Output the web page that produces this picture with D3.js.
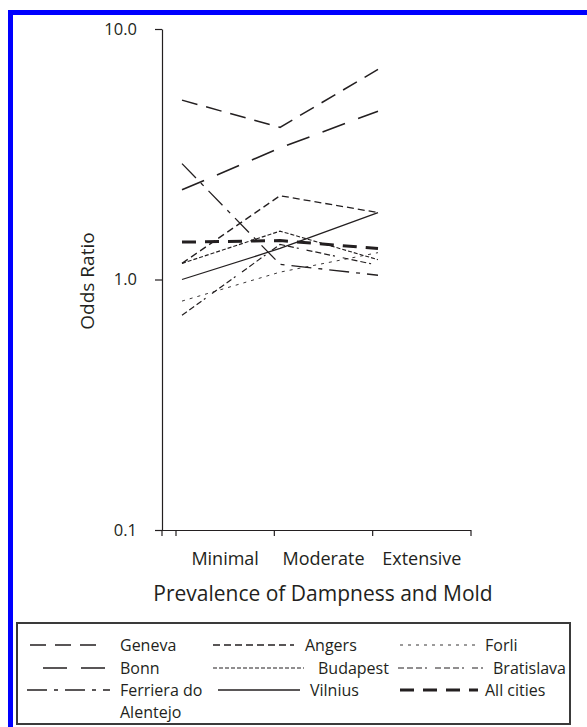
<!DOCTYPE html>
<html>
<head>
<meta charset="utf-8">
<script src="https://cdn.jsdelivr.net/npm/d3@7"></script>
<style>
  html, body { margin: 0; background: #fff; overflow: hidden; }
  svg { display: block; }
  svg text { font-family: "Open Sans", "Noto Sans", sans-serif; fill: #231f20; }
</style>
</head>
<body>
<svg width="587" height="727"></svg>
<script>
// data
const categories = ['Minimal', 'Moderate', 'Extensive'];
const cities = ['Geneva', 'Bonn', 'Ferriera do Alentejo', 'Angers', 'Budapest', 'Vilnius', 'Forli', 'Bratislava', 'All cities'];
const geneva = [5.2, 4.05, 6.9];
const bonn = [2.28, 3.35, 4.7];
const ferriera = [2.9, 1.15, 1.04];
const angers = [1.16, 2.16, 1.85];
const budapest = [1.16, 1.56, 1.2];
const vilnius = [1.0, 1.33, 1.85];
const forli = [0.82, 1.07, 1.28];
const bratislava = [0.72, 1.38, 1.14];
const allCities = [1.41, 1.43, 1.33];
const yTicks = [10, 1, 0.1];

const seriesValues = [geneva, bonn, ferriera, angers, budapest, vilnius, forli, bratislava, allCities];

// line styles, same order as cities
const styles = [
  {dash: '16,9', w: 1.5},
  {dash: '24,14', w: 1.6},
  {dash: '20,7,4,7', w: 1.3},
  {dash: '7,4', w: 1.3},
  {dash: '4,2', w: 1.1},
  {dash: null, w: 1.3},
  {dash: '3,5', w: 0.9},
  {dash: '6,3,6,3,6,3,2,8', w: 1.2},
  {dash: '14,9', w: 3}
];

let svg = d3.select('svg');

// blue frame (only top and left visible)
svg.append('path')
  .attr('d', 'M10.5,727 V12.5 H587')
  .attr('fill', 'none')
  .attr('stroke', '#0000ff')
  .attr('stroke-width', 5);

let y = d3.scaleLog().domain([0.1, 10]).range([530, 29]);
let xBand = d3.scaleBand().domain(categories).range([176, 471]);
let x = d3.scalePoint().domain(categories).range([182, 378]);

let axisX0 = 162;

// y axis
let yAxis = svg.append('g')
  .attr('transform', 'translate(' + axisX0 + ',0)')
  .call(d3.axisLeft(y).tickValues(yTicks).tickFormat(d3.format('.1f')).tickSize(7).tickSizeOuter(0).tickPadding(18));
yAxis.select('.domain').attr('stroke', '#231f20').attr('stroke-width', 1.2);
yAxis.selectAll('.tick line').attr('stroke', '#231f20').attr('stroke-width', 1.2);
yAxis.selectAll('.tick text').style('font-size', '16.5px').attr('fill', '#231f20');

// x axis
let xg = svg.append('g');
xg.append('line')
  .attr('x1', 155).attr('x2', xBand.range()[1])
  .attr('y1', 530.5).attr('y2', 530.5)
  .attr('stroke', '#231f20').attr('stroke-width', 1.2);
let xTickPos = [axisX0].concat(categories.map(c => xBand(c)), [xBand.range()[1]]);
xg.selectAll('.xt').data(xTickPos).enter().append('line')
  .attr('x1', d => d).attr('x2', d => d)
  .attr('y1', 530).attr('y2', 536)
  .attr('stroke', '#231f20').attr('stroke-width', 1.2);
xg.selectAll('.xl').data(categories).enter().append('text')
  .attr('x', d => xBand(d) + xBand.bandwidth() / 2)
  .attr('y', 565)
  .attr('text-anchor', 'middle')
  .style('font-size', '18px')
  .text(d => d);

svg.append('text')
  .attr('x', 323).attr('y', 601)
  .attr('text-anchor', 'middle')
  .style('font-size', '21px')
  .text('Prevalence of Dampness and Mold');

svg.append('text')
  .attr('transform', 'translate(94,281) rotate(-90)')
  .attr('text-anchor', 'middle')
  .style('font-size', '19px')
  .text('Odds Ratio');

// lines
let line = d3.line()
  .x((d, i) => x(categories[i]))
  .y(d => y(d));

svg.append('g').selectAll('path')
  .data(seriesValues)
  .enter().append('path')
  .attr('d', d => line(d))
  .attr('fill', 'none')
  .attr('stroke', '#231f20')
  .attr('stroke-width', (d, i) => styles[i].w)
  .attr('stroke-dasharray', (d, i) => styles[i].dash);

// legend
svg.append('rect')
  .attr('x', 17).attr('y', 623)
  .attr('width', 553).attr('height', 101)
  .attr('fill', '#fff')
  .attr('stroke', '#3a3a3a')
  .attr('stroke-width', 2);

let legendPos = [
  {x1: 30, x2: 100, tx: 120, y: 645},
  {x1: 43, x2: 107, tx: 120, y: 668},
  {x1: 27, x2: 110, tx: 120, y: 690},
  {x1: 213, x2: 294, tx: 305, y: 645},
  {x1: 213, x2: 304, tx: 318, y: 668},
  {x1: 218, x2: 300, tx: 310, y: 690},
  {x1: 400, x2: 480, tx: 485, y: 645},
  {x1: 398, x2: 483, tx: 493, y: 668},
  {x1: 400, x2: 478, tx: 485, y: 690}
];

let leg = svg.append('g').selectAll('g')
  .data(cities)
  .enter().append('g');
leg.append('line')
  .attr('x1', (d, i) => legendPos[i].x1)
  .attr('x2', (d, i) => legendPos[i].x2)
  .attr('y1', (d, i) => legendPos[i].y)
  .attr('y2', (d, i) => legendPos[i].y)
  .attr('stroke', '#231f20')
  .attr('stroke-width', (d, i) => styles[i].w)
  .attr('stroke-dasharray', (d, i) => styles[i].dash);
leg.append('text')
  .attr('x', (d, i) => legendPos[i].tx)
  .attr('y', (d, i) => legendPos[i].y + 6)
  .style('font-size', '16px')
  .each(function(d) {
    let parts = d === 'Ferriera do Alentejo' ? ['Ferriera do', 'Alentejo'] : [d];
    d3.select(this).selectAll('tspan').data(parts).enter().append('tspan')
      .attr('x', d3.select(this).attr('x'))
      .attr('dy', (p, j) => j === 0 ? 0 : 22)
      .text(p => p);
  });
</script>
</body>
</html>
